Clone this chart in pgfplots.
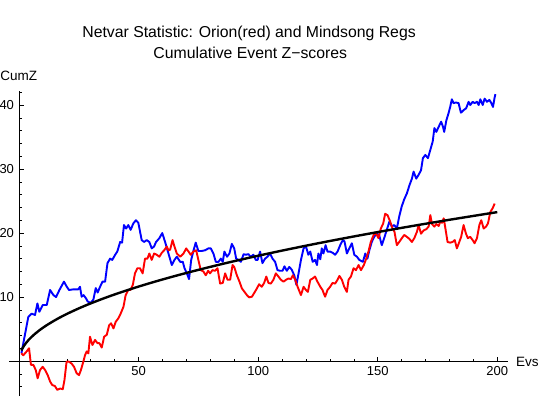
\documentclass[border=0pt]{standalone}
\usepackage{fontspec}
\setmainfont{Liberation Sans}
\usepackage{pgfplots}
\pgfplotsset{compat=1.18}
\begin{document}
\begin{tikzpicture}
\begin{axis}[
  scale only axis, width=498.4pt, height=305.3pt,
  xmin=-4, xmax=204.4, ymin=-5.5, ymax=42.2,
  axis lines=middle,
  axis line style={-, line width=0.8pt, black},
  xtick={50,100,150,200}, ytick={10,20,30,40},
  minor xtick={10,20,30,40,60,70,80,90,110,120,130,140,160,170,180,190},
  minor ytick={-4,-2,2,4,6,8,12,14,16,18,22,24,26,28,32,34,36,38,42},
  tick align=inside, major tick length=4.5pt, minor tick length=2.5pt,
  tick style={black, line width=0.6pt},
  ticklabel style={font=\fontsize{13}{15}\selectfont},
  /pgf/number format/assume math mode=true,
  xticklabel style={yshift=-2pt},
  yticklabel style={xshift=-1.5pt},
  clip=false,
]
\addplot[blue, line width=1.9pt, line join=round] coordinates {
(1,1.2)(3.9,6.9)(5.3,7.4)(6.7,7.2)(7.7,9.0)(8.5,7.7)(9.9,8.75)(11.6,8.75)(13,11.1)(14.4,10.3)
(15.5,10.0)(16.9,11.1)(18.8,12.4)(20,11.6)(20.9,11.1)(22.7,11.2)(24.8,11.2)(25.5,11.6)(26.2,10.05)(27,10.3)
(28,9.8)(28.7,9.3)(30,9.1)(31.1,9.6)(32.1,11.4)(32.9,10.7)(33.9,11.6)(34.9,12.4)(36,12.4)(37,15.3)
(38.1,16.0)(39,15.8)(40.2,16.6)(41.1,17.1)(42.3,18.6)(43.1,18.5)(43.9,21.25)(44.8,20.7)(45.7,21.25)(46.7,20.5)
(47.8,21.5)(48.9,22.0)(49.9,21.6)(51.3,18.9)(52.3,18.6)(53.4,18.9)(54.5,18.6)(55.5,17.6)(56.5,17.9)(57.3,18.6)
(58.7,19.2)(59.9,20.0)(61.1,18.6)(62.5,16.8)(63.9,15.0)(65,15.8)(66,16.3)(67.4,15.5)(68.5,15.5)(69.2,14.5)
(70.2,13.7)(71.1,12.8)(72,15.8)(73,17.3)(73.9,18.5)(75,17.2)(76.4,17.2)(77.8,17.3)(79.2,17.6)(80.2,17.6)
(81.3,16.8)(82.3,15.5)(83.4,15.5)(84.4,16.0)(85.2,15.5)(85.9,17.1)(87,16.3)(88,16.8)(89,18.3)(90,17.6)
(90.8,16.0)(91.8,15.8)(92.8,15.5)(93.9,16.7)(94.8,16.6)(95.9,16.7)(96.9,16.3)(98,16.6)(99,15.8)(99.8,15.8)
(100.8,17.1)(101.8,15.3)(102.9,16.0)(103.9,16.3)(105,16.8)(106,16.0)(107.1,15.5)(108.1,14.2)(109.2,14.1)(110.2,14.1)
(111,14.8)(112,14.1)(113,14.7)(114,14.3)(115.1,13.4)(116,11.9)(116.9,13.7)(117.9,15.8)(119,17.6)(120,17.9)
(121,16.6)(121.8,17.1)(122.8,15.5)(123.8,15.8)(124.6,15.0)(125.2,16.8)(126,15.9)(126.6,17.6)(127.3,16.8)(128.2,18.1)
(129,17.1)(130.1,17.1)(131.2,16.9)(132.2,16.6)(133.2,17.1)(134.3,18.1)(135.4,18.9)(136.1,18.7)(137.1,16.8)(138.1,17.6)
(139.2,18.4)(140.2,16.6)(141.3,16.3)(142.3,15.8)(143.8,15.5)(144.8,16.8)(145.7,16.0)(146.5,17.3)(147.5,18.6)(148.5,19.4)
(149.6,19.9)(150.6,19.7)(151.7,18.1)(152.7,19.2)(153.8,20.5)(154.9,21.8)(155.9,21.0)(156.9,21.25)(158,20.7)(159,22.6)
(160,24.1)(161,25.2)(162.2,26.2)(163.3,27.5)(164.3,28.5)(165,29.6)(166.1,28.5)(167.1,29.1)(168.1,29.8)(168.9,31.7)
(169.9,32.2)(171,31.7)(172,33.0)(173,34.3)(173.7,36.4)(174.5,35.8)(175.5,36.6)(176.5,37.4)(177.3,36.6)(177.8,35.8)
(178.7,37.6)(179.6,38.7)(180.3,39.7)(181,40.9)(181.7,40.3)(182.7,40.4)(183.8,40.3)(184.8,38.8)(185.9,39.2)(187,39.5)
(188,40.5)(188.7,40.0)(189.7,40.5)(190.5,40.3)(191.5,40.5)(192.2,40.0)(192.9,40.9)(193.9,40.0)(194.7,41.0)(195.7,40.5)
(196.7,40.8)(197.5,40.3)(198.2,39.7)(198.8,41.0)(199.2,41.7)
};
\addplot[red, line width=1.9pt, line join=round] coordinates {
(1,1.2)(1.8,0.9)(3.2,1.5)(4.2,2.0)(5,-0.6)(6,-0.6)(7,-1.4)(7.8,-2.7)(8.8,-1.4)(9.9,-0.9)
(10.9,-1.4)(12,-2.2)(13,-3.2)(13.9,-3.75)(15,-3.9)(16,-4.5)(17.2,-4.3)(18.3,-4.4)(19,-3.0)(19.9,-0.1)
(20.9,-0.1)(22,-0.4)(23,-0.9)(24.1,-1.9)(25.1,-2.2)(25.9,-1.4)(26.9,-0.1)(27.6,0.9)(28.3,1.5)(29,1.2)
(29.7,3.8)(30.7,2.5)(31.8,3.3)(32.8,2.8)(33.6,2.8)(34.6,2.1)(35.6,3.8)(36.7,4.1)(37.7,5.6)(38.5,5.9)
(39.5,5.1)(40.4,6.1)(41.6,6.7)(42.5,7.4)(43.7,8.5)(44.6,10.3)(45.7,11.1)(46.6,11.1)(47.6,11.9)(48.5,13.7)
(49.5,14.5)(50.6,14.5)(51.7,13.7)(52.7,16.0)(53.7,16.0)(54.5,16.8)(55.5,15.8)(56.5,16.8)(57.6,16.6)(58.7,16.3)
(59.7,16.9)(60.7,17.3)(61.8,17.9)(62.5,17.3)(63.2,17.4)(64.2,18.9)(65,17.9)(66,16.8)(67.4,16.3)(68.8,16.8)
(69.9,17.6)(70.9,17.1)(71.8,16.6)(72.9,17.1)(74.1,17.3)(75,15.8)(76,14.2)(77.1,14.0)(78.1,13.4)(79.1,14.1)
(79.9,13.7)(80.9,14.2)(82,14.1)(83,14.5)(84.1,12.1)(85.2,12.2)(86.2,13.7)(87.2,12.7)(88.3,12.7)(89.3,15.0)
(90,14.7)(91.1,13.4)(92.2,12.4)(93.2,11.35)(94.3,10.8)(95.3,10.3)(96.2,9.95)(97.4,10.05)(98.3,10.6)(99.5,11.35)
(100.4,12.0)(101.5,11.6)(102.5,12.2)(103.4,13.2)(104.3,12.2)(105.3,12.1)(106.4,12.7)(107.4,13.7)(108.5,13.2)(109.5,12.7)
(110.6,12.4)(111.7,12.7)(112.7,12.9)(113.7,12.8)(114.5,13.4)(115.5,12.7)(116.5,11.6)(117.9,10.3)(119,11.6)(120,11.1)
(120.8,10.8)(121.8,12.7)(122.8,12.9)(123.8,13.2)(124.8,12.4)(126,11.6)(126.9,11.1)(128,10.05)(129,11.1)(130.1,11.6)
(131.1,12.2)(132.2,12.1)(133.2,12.7)(134,13.3)(135,12.7)(136,11.6)(137.1,10.8)(137.8,12.7)(138.8,13.2)(139.9,14.5)
(140.9,14.2)(142,15.0)(143,14.2)(144.2,15.0)(145.2,16.0)(146.2,17.2)(147.1,18.6)(148.3,19.7)(149.2,20.0)(150.3,19.2)
(151.3,20.7)(152.3,21.5)(153.1,23.0)(154.1,22.8)(155.2,21.8)(156.2,20.7)(157,20.2)(158,18.1)(159,18.6)(160.1,19.2)
(161.1,19.7)(162.2,19.4)(163.2,19.1)(164.3,18.6)(165.3,19.2)(166.4,20.2)(167.1,21.25)(168.1,19.9)(169.2,20.4)(170.3,20.6)
(171.3,21.0)(172,22.8)(172.7,21.4)(173.7,21.0)(174.5,21.4)(175.5,21.1)(176.2,21.8)(176.9,21.6)(177.6,22.3)(178.4,20.5)
(179.2,18.6)(180.3,18.5)(181.3,18.6)(182.2,18.9)(183.1,17.6)(184.1,18.6)(184.9,19.4)(185.9,21.25)(186.9,19.9)(187.7,19.2)
(188.7,19.4)(189.7,18.9)(190.5,18.4)(191.5,19.2)(192.5,21.25)(193.3,22.0)(194.3,20.7)(195.3,21.0)(196.1,21.5)(197.1,23.3)
(198.1,23.9)(198.9,24.6)
};
\addplot[black, line width=2.4pt, smooth] coordinates {
(1,1.645)(1.5,2.015)(2,2.326)(3,2.849)(4,3.29)(6,4.029)(9,4.935)(12,5.698)(16,6.58)(20,7.357)
(25,8.225)(30,9.010)(36,9.87)(42,10.661)(49,11.515)(56,12.310)(64,13.16)(72,13.958)(81,14.805)(90,15.606)
(100,16.45)(110,17.253)(121,18.095)(132,18.900)(144,19.74)(156,20.546)(169,21.385)(182,22.192)(196,23.03)(200,23.264)
};
\node[anchor=base, font=\fontsize{15.8}{18}\selectfont] at (axis cs:96.2,50.6) {Netvar Statistic: Orion(red) and Mindsong Regs};
\node[anchor=base, font=\fontsize{15.8}{18}\selectfont] at (axis cs:96.7,47.2) {Cumulative Event Z\textminus scores};
\node[anchor=base west, inner sep=0pt, font=\fontsize{13.5}{15}\selectfont] at (axis cs:-7.9,43.9) {CumZ};
\node[anchor=base west, inner sep=0pt, font=\fontsize{13.5}{15}\selectfont] at (axis cs:207.8,-0.89) {Evs};
\coordinate (bl) at (axis cs:-7.945,-5.78);
\coordinate (tr) at (axis cs:217.86,56.41);
\end{axis}
\pgfresetboundingbox
\useasboundingbox (bl) rectangle (tr);
\end{tikzpicture}
\end{document}
